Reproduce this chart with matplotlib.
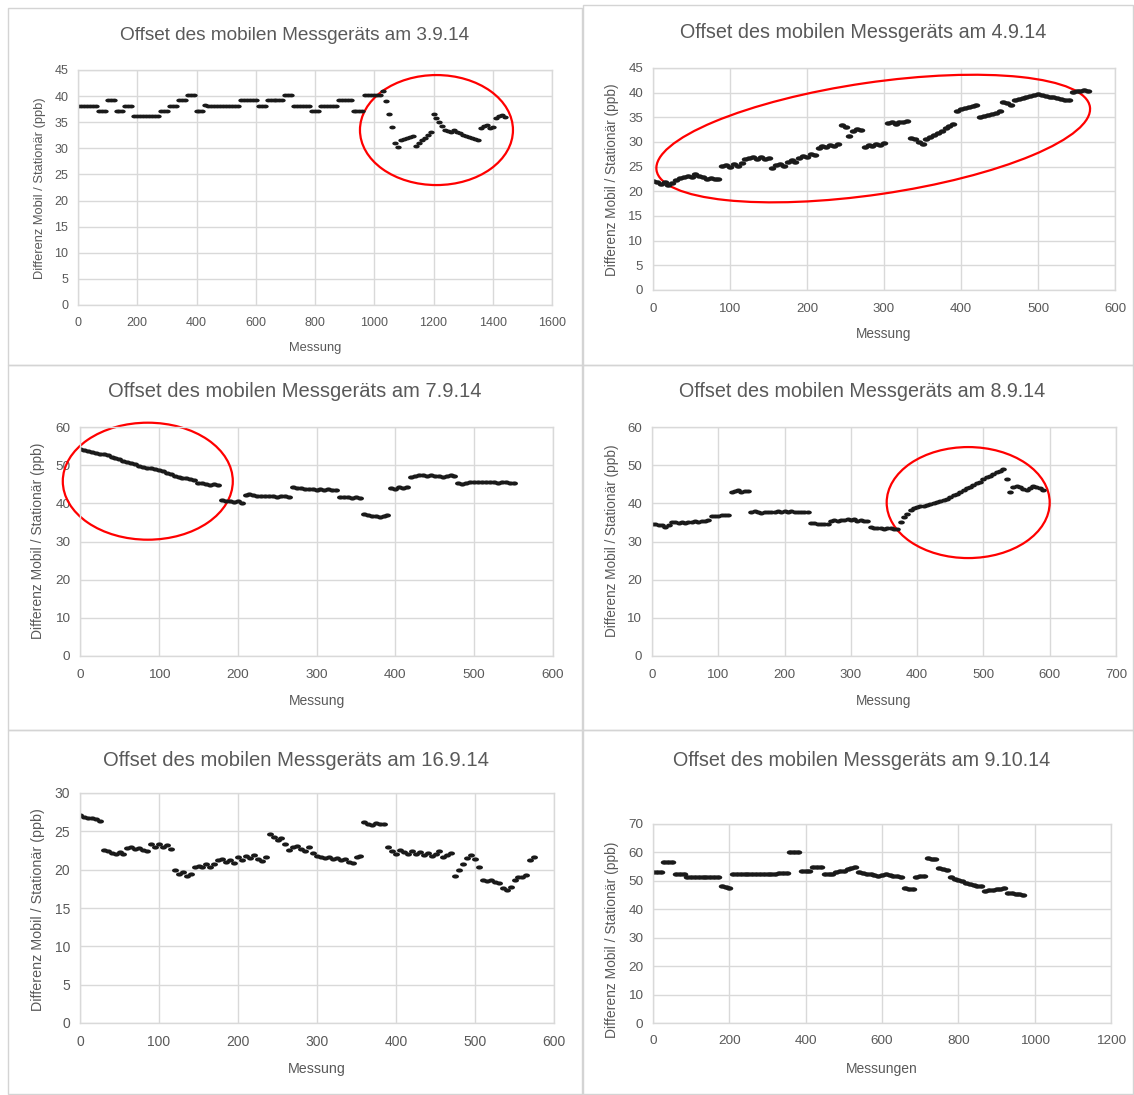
import numpy as np
import matplotlib
matplotlib.use("Agg")
import matplotlib.pyplot as plt
from matplotlib.patches import Ellipse, Rectangle
from matplotlib.path import Path
from matplotlib.transforms import ScaledTranslation

plt.rcParams['font.family'] = ['Liberation Sans', 'DejaVu Sans']

STEP_1 = 10
y_0309 = [
    38.2, 38.2, 38.2, 38.2, 38.2, 38.2, 38.2, 37.2, 37.2, 37.2,
    39.2, 39.2, 39.2, 37.2, 37.2, 37.2, 38.2, 38.2, 38.2, 36.2,
    36.2, 36.2, 36.2, 36.2, 36.2, 36.2, 36.2, 36.2, 37.2, 37.2,
    37.2, 38.2, 38.2, 38.2, 39.2, 39.2, 39.2, 40.3, 40.3, 40.3,
    37.2, 37.2, 37.2, 38.3, 38.2, 38.2, 38.2, 38.2, 38.2, 38.2,
    38.2, 38.2, 38.2, 38.2, 38.2, 39.2, 39.2, 39.2, 39.2, 39.2,
    39.2, 38.2, 38.2, 38.2, 39.2, 39.2, 39.2, 39.2, 39.2, 39.2,
    40.3, 40.3, 40.3, 38.2, 38.2, 38.2, 38.2, 38.2, 38.2, 37.2,
    37.2, 37.2, 38.2, 38.2, 38.2, 38.2, 38.2, 38.2, 39.2, 39.2,
    39.2, 39.2, 39.2, 37.2, 37.2, 37.2, 37.2, 40.3, 40.3, 40.3,
    40.3, 40.3, 40.3, 41.0, 39.0, 36.5, 34.0, 31.0, 30.3, 31.5,
    31.8, 32.0, 32.2, 32.3, 30.5, 31.0, 31.5, 32.0, 32.6, 33.1,
    36.5, 35.8, 35.0, 34.2, 33.6, 33.4, 33.2, 33.5, 33.2, 33.0,
    32.6, 32.4, 32.2, 32.0, 31.8, 31.6, 33.8, 34.2, 34.4, 33.8,
    34.0, 35.8, 36.2, 36.4, 36.0]

STEP_2 = 5
y_0409 = [
    22.0, 21.8, 21.5, 21.9, 21.2, 21.6, 22.3, 22.7, 23.0, 23.2,
    23.0, 23.6, 23.2, 22.9, 22.6, 22.8, 22.4, 22.6, 25.2, 25.4,
    25.0, 25.5, 25.1, 25.8, 26.5, 26.8, 27.0, 26.6, 26.9, 26.5,
    26.7, 24.8, 25.3, 25.6, 25.2, 26.0, 26.3, 25.9, 26.8, 27.2,
    27.0, 27.6, 27.3, 28.8, 29.2, 28.9, 29.4, 29.1, 29.5, 33.5,
    33.0, 31.2, 32.3, 32.6, 32.4, 29.0, 29.3, 29.1, 29.5, 29.3,
    29.8, 33.8, 34.0, 33.7, 34.1, 34.0, 34.2, 30.9, 30.7, 30.0,
    29.6, 30.6, 31.0, 31.5, 31.8, 32.3, 32.8, 33.3, 33.6, 36.3,
    36.6, 36.9, 37.0, 37.3, 37.6, 35.0, 35.3, 35.5, 35.7, 35.9,
    36.2, 38.2, 38.0, 37.6, 38.5, 38.7, 39.0, 39.2, 39.4, 39.6,
    39.8, 39.6, 39.4, 39.2, 39.1, 38.9, 38.8, 38.6, 38.5, 40.2,
    40.4, 40.3, 40.5, 40.3]

STEP_3 = 5
y_0709 = [
    54.3, 54.1, 53.8, 53.4, 53.2, 53.0, 52.8, 52.6, 52.2, 51.8,
    51.5, 51.0, 50.7, 50.5, 50.2, 49.9, 49.6, 49.3, 49.2, 48.9,
    48.8, 48.4, 48.0, 47.7, 47.2, 46.9, 46.7, 46.6, 46.4, 46.2,
    45.4, 45.2, 45.0, 44.9, 45.1, 44.7, 41.0, 40.7, 40.5, 40.3,
    40.6, 40.1, 42.2, 42.4, 42.1, 42.0, 41.9, 42.0, 41.8, 41.9,
    41.7, 41.9, 41.8, 41.7, 44.3, 44.1, 43.9, 43.8, 43.7, 43.7,
    43.6, 43.8, 43.6, 43.7, 43.5, 43.6, 41.6, 41.7, 41.6, 41.5,
    41.6, 41.5, 37.3, 36.9, 36.6, 36.8, 36.5, 36.7, 37.0, 44.1,
    43.8, 44.3, 44.0, 44.2, 47.0, 47.2, 47.3, 47.4, 47.2, 47.3,
    47.1, 47.2, 47.0, 47.2, 47.4, 47.1, 45.3, 45.0, 45.4, 45.6,
    45.5, 45.6, 45.5, 45.6, 45.5, 45.6, 45.4, 45.5, 45.7, 45.4,
    45.3]

STEP_4 = 5
y_0809 = [
    34.6, 34.5, 34.3, 34.2, 33.9, 34.3, 35.2, 35.1, 34.9, 35.0,
    34.8, 35.0, 35.1, 35.3, 35.2, 35.5, 35.4, 35.7, 36.6, 36.7,
    36.8, 36.9, 37.0, 36.9, 43.1, 43.2, 43.4, 43.1, 43.3, 43.2,
    37.7, 37.9, 37.8, 37.5, 37.6, 37.8, 37.7, 37.8, 37.9, 37.8,
    37.9, 37.8, 37.9, 37.8, 37.7, 37.8, 37.7, 37.6, 34.9, 34.8,
    34.7, 34.6, 34.5, 34.6, 35.5, 35.6, 35.4, 35.6, 35.7, 35.8,
    35.6, 35.8, 35.5, 35.7, 35.4, 35.3, 33.8, 33.6, 33.5, 33.6,
    33.4, 33.5, 33.6, 33.4, 33.2, 35.0, 36.3, 37.3, 38.2, 38.8,
    39.0, 39.2, 39.4, 39.5, 39.8, 40.0, 40.3, 40.5, 41.0, 41.2,
    41.6, 42.1, 42.5, 43.0, 43.6, 44.0, 44.4, 44.9, 45.2, 45.6,
    46.3, 46.8, 47.2, 47.7, 48.2, 48.6, 49.1, 46.5, 43.0, 44.2,
    44.6, 44.3, 43.8, 43.6, 44.0, 44.5, 44.2, 43.9, 43.6]

STEP_5 = 5
y_1609 = [
    27.1, 26.9, 26.8, 26.7, 26.6, 26.4, 22.6, 22.4, 22.2, 22.1,
    22.3, 22.0, 22.8, 22.9, 22.7, 22.8, 22.6, 22.5, 23.3, 23.0,
    23.4, 22.9, 23.2, 22.7, 19.9, 19.5, 19.7, 19.2, 19.4, 20.3,
    20.5, 20.3, 20.7, 20.4, 20.8, 21.2, 21.4, 21.0, 21.3, 20.9,
    21.6, 21.3, 21.8, 21.5, 21.9, 21.4, 21.1, 21.7, 24.6, 24.3,
    23.9, 24.1, 23.3, 22.6, 22.9, 23.1, 22.7, 22.4, 23.0, 22.2,
    21.8, 21.7, 21.5, 21.6, 21.4, 21.5, 21.2, 21.4, 21.0, 20.9,
    21.6, 21.8, 26.2, 26.0, 25.8, 26.1, 25.9, 26.0, 22.9, 22.5,
    22.0, 22.6, 22.3, 22.1, 22.4, 22.0, 22.3, 21.9, 22.2, 21.8,
    22.0, 22.4, 21.6, 21.9, 22.2, 19.2, 20.0, 20.8, 21.5, 21.9,
    21.4, 20.4, 18.7, 18.5, 18.6, 18.4, 18.3, 17.6, 17.3, 17.8,
    18.6, 19.1, 19.0, 19.3, 21.3, 21.6]

STEP_6 = 10
y_0910 = [
    53.2, 53.2, 53.2, 56.5, 56.5, 56.5, 52.4, 52.4, 52.4, 51.3,
    51.3, 51.3, 51.3, 51.3, 51.3, 51.3, 51.3, 51.3, 48.3, 47.8,
    47.4, 52.4, 52.4, 52.4, 52.4, 52.4, 52.4, 52.5, 52.5, 52.5,
    52.5, 52.5, 52.5, 52.6, 52.6, 52.6, 60.0, 60.0, 60.0, 53.5,
    53.5, 53.5, 54.8, 54.8, 54.8, 52.4, 52.4, 52.4, 53.1, 53.3,
    53.5, 54.2, 54.5, 54.7, 53.0, 52.8, 52.5, 52.3, 52.0, 51.7,
    52.2, 52.4, 52.1, 51.8, 51.6, 51.4, 47.6, 47.2, 47.3, 51.5,
    51.7, 51.8, 58.0, 57.8, 57.6, 54.5, 54.2, 53.8, 51.3, 50.8,
    50.3, 49.8, 49.3, 48.8, 48.5, 48.3, 48.2, 46.5, 46.7, 46.9,
    47.1, 47.3, 47.5, 45.8, 45.6, 45.5, 45.3, 45.0]

titel = ["Offset des mobilen Messgeräts am 3.9.14",
         "Offset des mobilen Messgeräts am 4.9.14",
         "Offset des mobilen Messgeräts am 7.9.14",
         "Offset des mobilen Messgeräts am 8.9.14",
         "Offset des mobilen Messgeräts am 16.9.14",
         "Offset des mobilen Messgeräts am 9.10.14"]
ylab = "Differenz Mobil / Stationär (ppb)"

W, H = 1134, 1095
GRAU = '#595959'
GRID = '#d9d9d9'
PUNKT = '#1a1a1a'

# breiter, flacher Marker -> dichte Punktwolke wie im Excel-Diagramm
_t = np.linspace(0, 2 * np.pi, 40)
MARKER = Path(np.column_stack([np.cos(_t), 0.6 * np.sin(_t)]), closed=True)

fig = plt.figure(figsize=(W / 100, H / 100), dpi=100)


def ftext(x, y, s, **kw):
    fig.text(x / W, 1 - y / H, s, ha='center', va='center', color=GRAU, **kw)


def diagramm(box, y, step, xmax, xtick, ymax, ytick, t, tpos, tsize,
             xlab, xpos, ypos, fs=9.5, ms=5):
    l, top, r, b = box
    ax = fig.add_axes([l / W, 1 - b / H, (r - l) / W, (b - top) / H])
    x = np.arange(len(y)) * step
    ax.plot(x, y, ls='none', marker=MARKER, ms=ms, mfc=PUNKT, mec=PUNKT, mew=0)
    ax.set_xlim(0, xmax)
    ax.set_ylim(0, ymax)
    ax.set_xticks(np.arange(0, xmax + 1, xtick))
    ax.set_yticks(np.arange(0, ymax + 1, ytick))
    ax.grid(True, color=GRID, lw=1)
    ax.set_axisbelow(True)
    for sp in ax.spines.values():
        sp.set_color(GRID)
        sp.set_linewidth(1)
    ax.tick_params(length=0, labelsize=fs, colors=GRAU)
    ax.tick_params(axis='x', pad=9)
    ax.tick_params(axis='y', pad=7)
    ftext(tpos[0], tpos[1], t, fontsize=tsize)
    ftext(xpos[0], xpos[1], xlab, fontsize=fs + 0.3)
    ftext(ypos[0], ypos[1], ylab, fontsize=fs + 0.3, rotation=90)
    return ax


def kreis(ax, cx, cy, w, h, angle=0):
    trans = fig.dpi_scale_trans + ScaledTranslation(cx, cy, ax.transData)
    ax.add_patch(Ellipse((0, 0), w, h, angle=angle, transform=trans,
                         fill=False, ec='#ff0000', lw=1.6, clip_on=False))


# Rahmen der einzelnen Excel-Diagramme
for x0, y0, x1, y1 in [(8, 8, 582, 365), (583, 5, 1133, 365),
                       (8, 365, 582, 730), (583, 365, 1133, 730),
                       (8, 730, 582, 1094), (583, 730, 1133, 1094)]:
    fig.add_artist(Rectangle((x0 / W, 1 - y1 / H), (x1 - x0) / W, (y1 - y0) / H,
                             transform=fig.transFigure, fill=False,
                             ec='#d4d4d4', lw=1))

ax1 = diagramm((78, 70, 552, 305), y_0309, STEP_1, 1600, 200, 45, 5,
               titel[0], (295, 35), 13.7, "Messung", (315, 348), (40, 188),
               fs=9, ms=4.6)
ax2 = diagramm((653, 68, 1115, 290), y_0409, STEP_2, 600, 100, 45, 5,
               titel[1], (863, 33), 14.2, "Messung", (884, 334), (612, 180),
               ms=5.4)
ax3 = diagramm((80, 427, 553, 656), y_0709, STEP_3, 600, 100, 60, 10,
               titel[2], (295, 392), 14.5, "Messung", (317, 701), (38, 541),
               fs=9.7, ms=5)
ax4 = diagramm((652, 427, 1116, 656), y_0809, STEP_4, 700, 100, 60, 10,
               titel[3], (862, 392), 14.2, "Messung", (884, 701), (612, 541),
               ms=4.8)
ax5 = diagramm((80, 793, 554, 1023), y_1609, STEP_5, 600, 100, 30, 5,
               titel[4], (296, 760), 14.6, "Messung", (317, 1069), (38, 910),
               fs=10, ms=5)
ax6 = diagramm((653, 824, 1111, 1023), y_0910, STEP_6, 1200, 200, 70, 10,
               titel[5], (862, 760), 14.2, "Messungen", (882, 1069), (612, 940),
               fs=9.7, ms=5.4)

kreis(ax1, 1210, 33.5, 1.53, 1.10)
kreis(ax2, 286, 30.7, 4.38, 1.12, angle=8.3)
kreis(ax3, 86, 45.8, 1.70, 1.17)
kreis(ax4, 477, 40.2, 1.63, 1.11)

fig.savefig("out.png", dpi=100)
